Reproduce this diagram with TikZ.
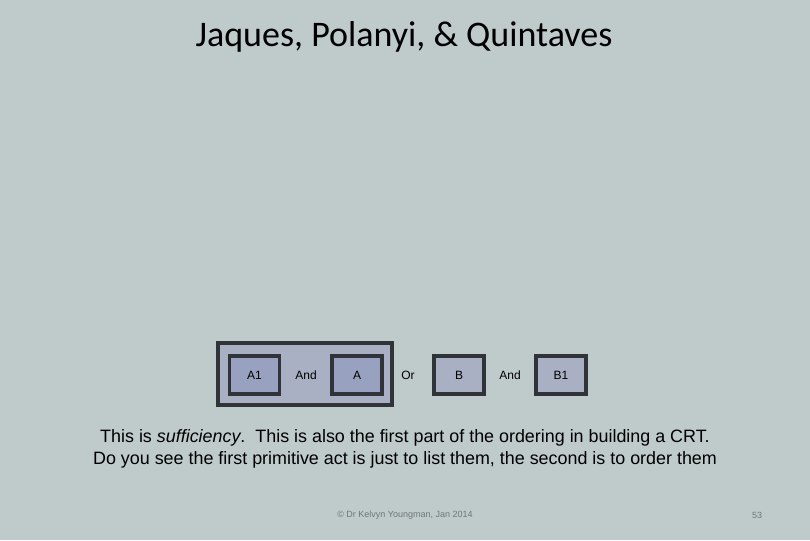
\documentclass[tikz,border=0pt]{standalone}
\usepackage{fontspec}
\setmainfont{Liberation Sans}
\newfontfamily\titlefont{Carlito}
\definecolor{bg}{HTML}{BFCACA}
\definecolor{outerfill}{HTML}{A9B0C4}
\definecolor{darkfill}{HTML}{98A2C0}
\definecolor{edge}{HTML}{303338}
\definecolor{foot}{HTML}{707878}
\begin{document}
\begin{tikzpicture}[x=1pt,y=-1pt,
  box/.style={draw=edge,line width=3.2pt,minimum width=50pt,minimum height=38pt,inner sep=0pt,font=\fontsize{12}{14}\selectfont},
  word/.style={font=\fontsize{12}{14}\selectfont,inner sep=0pt}]
\fill[bg] (0,0) rectangle (810,540);
\useasboundingbox (0,0) rectangle (810,540);
\node[font=\titlefont\fontsize{36}{40}\selectfont,inner sep=0pt] (title) at (404,37) {Jaques, Polanyi, \& Quintaves};
\node[draw=edge,line width=3.2pt,fill=outerfill,minimum width=174pt,minimum height=62pt,inner sep=0pt] (outer) at (305,374) {};
\node[box,fill=darkfill] (a1) at (254.5,375) {A1};
\node[word] (and1) at (306,375) {And};
\node[box,fill=darkfill] (a) at (357,375) {A};
\node[word] (or) at (408,375) {Or};
\node[box,fill=outerfill] (b) at (459,375) {B};
\node[word] (and2) at (510,375) {And};
\node[box,fill=outerfill] (b1) at (561,375) {B1};
\node[font=\fontsize{17.9}{22}\selectfont,align=center,inner sep=0pt] (body) at (405,449) {This is \textit{sufficiency}.\ \ This is also the first part of the ordering in building a CRT.\\Do you see the first primitive act is just to list them, the second is to order them};
\node[font=\fontsize{9}{11}\selectfont,text=foot,inner sep=0pt] (footer) at (405,515) {\copyright{} Dr Kelvyn Youngman, Jan 2014};
\node[font=\fontsize{9}{11}\selectfont,text=foot,inner sep=0pt] (page) at (757,515) {53};
\end{tikzpicture}
\end{document}
